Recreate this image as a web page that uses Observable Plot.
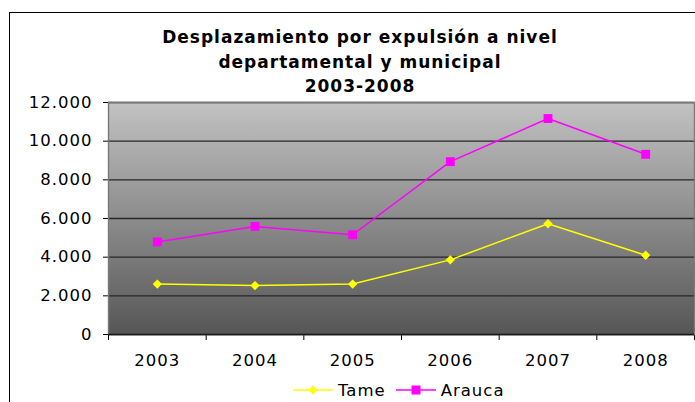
<!DOCTYPE html>
<html>
<head>
<meta charset="utf-8">
<script src="https://cdn.jsdelivr.net/npm/d3@7"></script>
<script src="https://cdn.jsdelivr.net/npm/@observablehq/plot@0.6"></script>
<style>
  body { margin: 0; background: #fff; }
  #wrap { position: relative; width: 695px; height: 402px; overflow: hidden; font-family: "DejaVu Sans", Verdana, sans-serif; background: #fff; }
  #border { position: absolute; left: 9px; top: 12px; width: 720px; height: 420px; border: 1px solid #000; box-sizing: border-box; pointer-events: none; }
  #title { position: absolute; left: 0; top: 25px; width: 720px; text-align: center; font-weight: bold; font-size: 17px; letter-spacing: 1px; line-height: 24.5px; color: #000; }
  #chart { position: absolute; left: 0; top: 0; }
  #legend { position: absolute; left: 293px; top: 380px; display: flex; align-items: center; font-size: 16.5px; letter-spacing: 1px; color: #000; white-space: nowrap; }
  #legend .item { display: flex; align-items: center; margin-right: 10px; }
  #legend svg { margin-right: 5px; }
</style>
</head>
<body>
<div id="wrap">
  <div id="chart"></div>
  <div id="title">Desplazamiento por expulsión a nivel<br>departamental y municipal<br>2003-2008</div>
  <div id="legend"></div>
  <div id="border"></div>
</div>
<script>
// ---- data ----
const years = [2003, 2004, 2005, 2006, 2007, 2008];
const tameValues = [2610, 2530, 2610, 3860, 5730, 4100];
const araucaValues = [4790, 5590, 5160, 8940, 11170, 9320];
const yTicks = [0, 2000, 4000, 6000, 8000, 10000, 12000];
const seriesNames = ["Tame", "Arauca"];
const seriesColors = ["#ffff00", "#ff00ff"];
const seriesSymbols = ["diamond2", "square"];

const tame = years.map((year, i) => ({year, value: tameValues[i]}));
const arauca = years.map((year, i) => ({year, value: araucaValues[i]}));
const xBounds = [years[0] - 0.5, ...years.map(y => y + 0.5)];

const fmt = d => d === 0 ? "0" : d3.format(",")(d).replace(/,/g, ".");

const chart = Plot.plot({
  width: 695,
  height: 402,
  marginTop: 102,
  marginRight: 1,
  marginBottom: 68,
  marginLeft: 108,
  style: { fontFamily: "'DejaVu Sans', Verdana, sans-serif", fontSize: "16.5px", color: "#000", background: "transparent", overflow: "visible" },
  x: { domain: [xBounds[0], xBounds[xBounds.length - 1]], ticks: xBounds, tickFormat: () => "", tickSize: 6, label: null },
  y: { domain: [0, 12000], ticks: yTicks, tickFormat: fmt, tickSize: 5, tickPadding: 11, label: null, line: true },
  marks: [
    Plot.frame({ fill: "url(#plotBg)", stroke: "none" }),
    Plot.ruleY(yTicks, { stroke: "#262626", strokeWidth: 1.4 }),
    Plot.frame({ stroke: "#7a7a7a", strokeWidth: 1.4, fill: "none" }),
    Plot.ruleY([0], { stroke: "#1a1a1a", strokeWidth: 1.4 }),
    Plot.line(tame, { x: "year", y: "value", stroke: seriesColors[0], strokeWidth: 1.5 }),
    Plot.line(arauca, { x: "year", y: "value", stroke: seriesColors[1], strokeWidth: 1.5 }),
    Plot.dot(tame, { x: "year", y: "value", symbol: () => seriesSymbols[0], fill: seriesColors[0], stroke: "none", r: 4.2 }),
    Plot.dot(arauca, { x: "year", y: "value", symbol: () => seriesSymbols[1], fill: seriesColors[1], stroke: "none", r: 5 }),
    Plot.text(years, { x: d => d, text: d => String(d), frameAnchor: "bottom", lineAnchor: "middle", dy: 26, fill: "#000", fontSize: 16.5 })
  ]
});

// gradient background for the plot area
const svgNS = "http://www.w3.org/2000/svg";
const defs = document.createElementNS(svgNS, "defs");
defs.innerHTML = '<linearGradient id="plotBg" x1="0" y1="0" x2="0" y2="1">' +
  '<stop offset="0" stop-color="#c2c2c2"/><stop offset="1" stop-color="#565656"/></linearGradient>';
chart.insertBefore(defs, chart.firstChild);
chart.querySelectorAll("text").forEach(t => t.setAttribute("letter-spacing", "1"));
document.getElementById("chart").appendChild(chart);

// legend
const legend = document.getElementById("legend");
seriesNames.forEach((name, i) => {
  const item = document.createElement("div");
  item.className = "item";
  const sym = seriesSymbols[i] === "square"
    ? `<rect x="15.5" y="5.5" width="9" height="9" fill="${seriesColors[i]}"/>`
    : `<path d="M20,5.5 L24.5,10 L20,14.5 L15.5,10 Z" fill="${seriesColors[i]}"/>`;
  item.innerHTML = `<svg width="40" height="20"><line x1="0" x2="40" y1="10" y2="10" stroke="${seriesColors[i]}" stroke-width="1.6"/>${sym}</svg><span>${name}</span>`;
  legend.appendChild(item);
});
</script>
</body>
</html>
